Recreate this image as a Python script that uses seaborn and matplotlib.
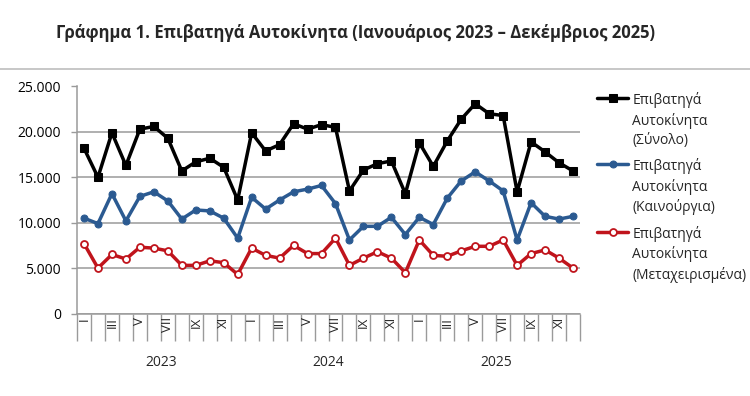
import matplotlib
matplotlib.use("Agg")
import matplotlib.pyplot as plt
from matplotlib.lines import Line2D
from matplotlib.ticker import FuncFormatter, FixedLocator
import seaborn as sns
import pandas as pd
import numpy as np

years = ["2023", "2024", "2025"]
month_labels = ["I", "", "III", "", "V", "", "VII", "", "IX", "", "XI", ""]

total = [18200, 15000, 19900, 16300, 20300, 20600, 19300, 15700, 16700, 17100, 16100, 12500,
         19900, 17900, 18600, 20900, 20300, 20800, 20500, 13500, 15800, 16500, 16800, 13200,
         18800, 16200, 19000, 21400, 23100, 22000, 21800, 13400, 18900, 17800, 16600, 15700]
new = [10500, 9900, 13200, 10200, 12900, 13400, 12400, 10400, 11400, 11300, 10500, 8300,
       12800, 11500, 12500, 13400, 13700, 14100, 12100, 8100, 9600, 9600, 10600, 8700,
       10600, 9800, 12700, 14600, 15600, 14600, 13500, 8100, 12200, 10700, 10400, 10700]
used = [7700, 5000, 6500, 6000, 7300, 7200, 6900, 5300, 5300, 5800, 5600, 4300,
        7200, 6400, 6100, 7500, 6600, 6600, 8300, 5300, 6100, 6800, 6100, 4500,
        8100, 6400, 6300, 6900, 7400, 7400, 8100, 5300, 6600, 7000, 6100, 5000]

series_names = ["Επιβατηγά\nΑυτοκίνητα\n(Σύνολο)",
                "Επιβατηγά\nΑυτοκίνητα\n(Καινούργια)",
                "Επιβατηγά\nΑυτοκίνητα\n(Μεταχειρισμένα)"]
title = "Γράφημα 1. Επιβατηγά Αυτοκίνητα (Ιανουάριος 2023 – Δεκέμβριος 2025)"

sns.set_theme(style="white")
plt.rcParams['font.family'] = ['Open Sans', 'DejaVu Sans']

n = len(total)
idx = np.arange(n)
df = pd.DataFrame({"idx": np.tile(idx, 3),
                   "value": total + new + used,
                   "series": np.repeat(series_names, n)})

fig = plt.figure(figsize=(7.5, 3.96), dpi=100)
ax = fig.add_axes([77/750, 1-313.5/396, (580-77)/750, (313.5-86.5)/396])

colors = ["#000000", "#2B5A91", "#C0141C"]
styles = [dict(marker="s", markersize=6, markerfacecolor="#000000", markeredgecolor="#000000"),
          dict(marker="o", markersize=5, markerfacecolor="#2B5A91", markeredgecolor="#2B5A91"),
          dict(marker="o", markersize=5, markerfacecolor="white", markeredgecolor="#C0141C",
               markeredgewidth=1.3)]
for name, c, st in zip(series_names, colors, styles):
    sub = df[df.series == name]
    sns.lineplot(data=sub, x="idx", y="value", ax=ax, color=c, linewidth=2.5,
                 label=name, **st)

ax.set_xlim(-0.5, n - 0.5)
ax.set_ylim(0, 25000)
ax.set_yticks([0, 5000, 10000, 15000, 20000, 25000])
ax.yaxis.set_major_formatter(FuncFormatter(lambda v, p: f"{int(v):,}".replace(",", ".")))
ax.yaxis.grid(True, color="#9a9a9a", linewidth=1.1)
ax.set_axisbelow(True)
ax.tick_params(axis="y", length=4.5, color="#9a9a9a", width=1, labelsize=10, pad=7,
               labelcolor="#000000", left=True)
for s in ["top", "right"]:
    ax.spines[s].set_visible(False)
for s in ["left", "bottom"]:
    ax.spines[s].set_color("#9a9a9a")
    ax.spines[s].set_linewidth(1.1)
ax.set_xlabel("")
ax.set_ylabel("")

# category separators
ax.xaxis.set_major_locator(FixedLocator(np.arange(-0.5, n, 1.0)))
ax.xaxis.set_minor_locator(FixedLocator(np.arange(-0.5, n + 1, 12.0)))
ax.tick_params(axis="x", which="major", length=19.5, color="#9a9a9a", width=1,
               labelbottom=False, bottom=True, direction="out")
ax.tick_params(axis="x", which="minor", length=41, color="#9a9a9a", width=1,
               bottom=True, direction="out")

for i in range(n):
    lab = month_labels[i % 12]
    if lab:
        ax.annotate(lab, xy=(i, 0), xycoords=("data", "axes fraction"),
                    xytext=(0, -2.5), textcoords="offset points", rotation=90,
                    ha="center", va="top", fontsize=9.5)
for k, y in enumerate(years):
    ax.annotate(y, xy=(12 * k + 5.5, 0), xycoords=("data", "axes fraction"),
                xytext=(0, -35), textcoords="offset points",
                ha="center", va="center", fontsize=10)

leg = ax.legend(loc="upper left", bbox_to_anchor=(597/750, 1-92/396),
                bbox_transform=fig.transFigure, frameon=False, fontsize=10,
                handlelength=2.25, handleheight=1.3, handletextpad=0.3,
                labelspacing=0.75, borderpad=0, borderaxespad=0)
for t in leg.get_texts():
    t.set_linespacing(1.38)
for col in leg._legend_handle_box.get_children():
    for item in col.get_children():
        item.align = "top"

fig.text(356/750, 1-33/396, title, ha="center", va="center", fontsize=12,
         fontweight="bold")
fig.add_artist(Line2D([0, 1], [1-69/396, 1-69/396], color="#bdbdbd", linewidth=1.2,
                      transform=fig.transFigure))

fig.savefig("out.png", dpi=100)
